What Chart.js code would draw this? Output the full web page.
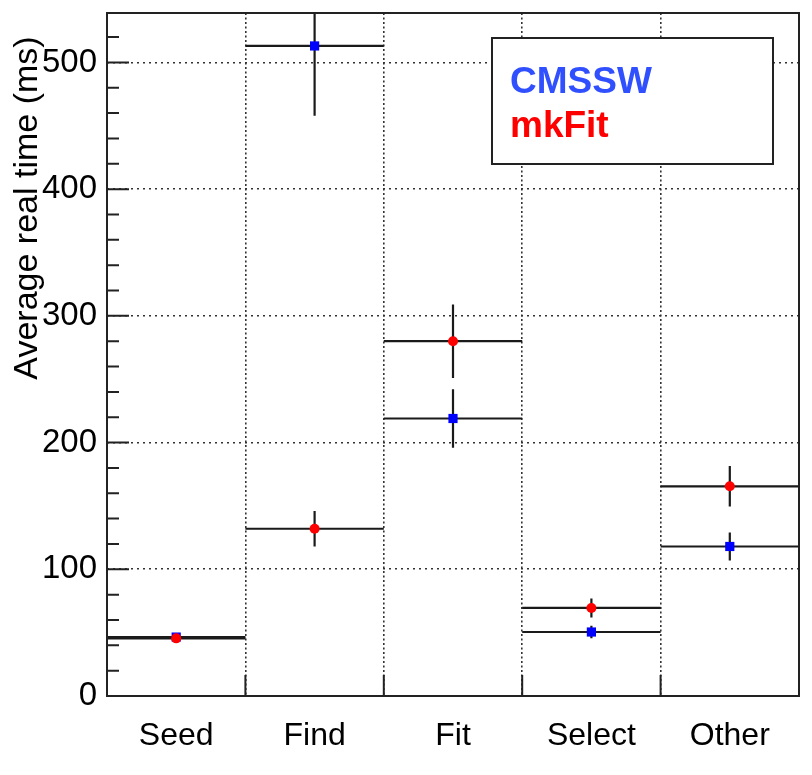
<!DOCTYPE html>
<html>
<head>
<meta charset="utf-8">
<script src="https://cdn.jsdelivr.net/npm/chart.js@4.4.1/dist/chart.umd.min.js"></script>
<style>
  html, body { margin: 0; padding: 0; background: #fff; }
  #box { width: 812px; height: 775px; }
</style>
</head>
<body>
<div id="box"><canvas id="myChart"></canvas></div>
<script>
const categories = ["Seed", "Find", "Fit", "Select", "Other"];
const cmsswTime = [46.5, 513, 219, 50.5, 118];
const cmsswErr = [2, 55, 23, 5, 11];
const mkfitTime = [45.5, 132, 280, 69.5, 165.5];
const mkfitErr = [2, 14, 29, 7.5, 16];
const yTicks = [0, 100, 200, 300, 400, 500];
const yMax = 539;
const yMinorStep = 20;

const FONT = "'Liberation Sans', Arial, Helvetica, sans-serif";

// horizontal bin-width bars, broken by null points
function binLines(values) {
  let pts = [];
  values.forEach(function (v, i) {
    pts.push({ x: i, y: v }, { x: i + 1, y: v }, { x: i + 0.5, y: null });
  });
  return pts;
}

// vertical error bars at bin centres
function errLines(values, errs) {
  let pts = [];
  values.forEach(function (v, i) {
    pts.push({ x: i + 0.5, y: v - errs[i] }, { x: i + 0.5, y: v + errs[i] }, { x: i + 0.5, y: null });
  });
  return pts;
}

function centres(values) {
  return values.map(function (v, i) {
    return { x: i + 0.5, y: v };
  });
}

const lineStyle = {
  type: "scatter",
  showLine: true,
  spanGaps: false,
  borderColor: "#1a1a1a",
  borderWidth: 2.2,
  pointRadius: 0,
  order: 3,
};

const rootFrame = {
  id: "rootFrame",
  afterDatasetsDraw(chart) {
    const ctx = chart.ctx;
    const a = chart.chartArea;
    const ys = chart.scales.y;
    const xs = chart.scales.x;
    ctx.save();

    // tick marks inside the frame
    ctx.strokeStyle = "#222";
    ctx.lineWidth = 2;
    ctx.beginPath();
    for (let v = 0; v <= yMax; v += yMinorStep) {
      const py = ys.getPixelForValue(v);
      const len = yTicks.includes(v) ? 22 : 12;
      ctx.moveTo(a.left, py);
      ctx.lineTo(a.left + len, py);
    }
    for (let i = 1; i < categories.length; i++) {
      const px = xs.getPixelForValue(i);
      ctx.moveTo(px, a.bottom);
      ctx.lineTo(px, a.bottom - 21);
    }
    ctx.stroke();

    // frame
    ctx.strokeRect(a.left, a.top, a.right - a.left, a.bottom - a.top);

    // legend box
    const lx = a.left + 385, ly = a.top + 25, lw = 281, lh = 126;
    ctx.fillStyle = "#fff";
    ctx.fillRect(lx, ly, lw, lh);
    ctx.lineWidth = 2;
    ctx.strokeRect(lx, ly, lw, lh);
    ctx.font = "bold 37px " + FONT;
    ctx.textAlign = "left";
    ctx.textBaseline = "alphabetic";
    ctx.fillStyle = "#3050ff";
    ctx.fillText("CMSSW", lx + 18, ly + 55);
    ctx.fillStyle = "#ff0000";
    ctx.fillText("mkFit", lx + 18, ly + 99);

    // y axis title, aligned toward the top like ROOT
    ctx.fillStyle = "#000";
    ctx.font = "34px " + FONT;
    ctx.translate(37, 208);
    ctx.rotate(-Math.PI / 2);
    ctx.textAlign = "center";
    ctx.fillText("Average real time (ms)", 0, 0);
    ctx.restore();
  },
};

const chart = new Chart(document.getElementById("myChart"), {
  type: "scatter",
  data: {
    datasets: [
      Object.assign({ label: "CMSSW bins", data: binLines(cmsswTime) }, lineStyle),
      Object.assign({ label: "CMSSW err", data: errLines(cmsswTime, cmsswErr) }, lineStyle),
      Object.assign({ label: "mkFit bins", data: binLines(mkfitTime) }, lineStyle),
      Object.assign({ label: "mkFit err", data: errLines(mkfitTime, mkfitErr) }, lineStyle),
      {
        label: "CMSSW",
        data: centres(cmsswTime),
        pointStyle: "rect",
        pointRadius: 6.5,
        backgroundColor: "#0000ff",
        borderColor: "#0000ff",
        borderWidth: 0,
        order: 2,
      },
      {
        label: "mkFit",
        data: centres(mkfitTime),
        pointStyle: "circle",
        pointRadius: 5,
        backgroundColor: "#ff0000",
        borderColor: "#ff0000",
        borderWidth: 0,
        order: 1,
      },
    ],
  },
  options: {
    responsive: true,
    maintainAspectRatio: false,
    animation: false,
    layout: { padding: { top: 13, right: 13, left: 0, bottom: 0 } },
    plugins: {
      legend: { display: false },
      tooltip: { enabled: false },
    },
    scales: {
      x: {
        type: "linear",
        min: 0,
        max: categories.length,
        afterFit(scale) {
          scale.height = 79;
          scale.paddingLeft = 0;
          scale.paddingRight = 0;
        },
        afterBuildTicks(axis) {
          let t = [];
          for (let i = 0; i <= categories.length; i++) {
            t.push({ value: i });
            if (i < categories.length) t.push({ value: i + 0.5 });
          }
          axis.ticks = t;
        },
        border: { display: false, dash: [2, 2.5] },
        grid: {
          drawTicks: false,
          lineWidth: 1.6,
          color: function (ctx) {
            const v = ctx.tick ? ctx.tick.value : -1;
            return Number.isInteger(v) && v > 0 && v < categories.length ? "#333" : "rgba(0,0,0,0)";
          },
        },
        ticks: {
          autoSkip: false,
          maxRotation: 0,
          padding: 21,
          color: "#000",
          font: { family: FONT, size: 32 },
          callback: function (value) {
            return value % 1 === 0.5 ? categories[Math.floor(value)] : "";
          },
        },
      },
      y: {
        min: 0,
        max: yMax,
        afterFit(scale) {
          scale.width = 107;
          scale.paddingTop = 0;
          scale.paddingBottom = 0;
        },
        afterBuildTicks(axis) {
          axis.ticks = yTicks.map(function (v) {
            return { value: v };
          });
        },
        border: { display: false, dash: [2, 4] },
        grid: {
          drawTicks: false,
          lineWidth: 1.6,
          color: function (ctx) {
            return ctx.tick && ctx.tick.value > 0 ? "#333" : "rgba(0,0,0,0)";
          },
        },
        ticks: {
          padding: 10,
          color: "#000",
          font: { family: FONT, size: 33 },
        },
      },
    },
  },
  plugins: [rootFrame],
});
</script>
</body>
</html>
